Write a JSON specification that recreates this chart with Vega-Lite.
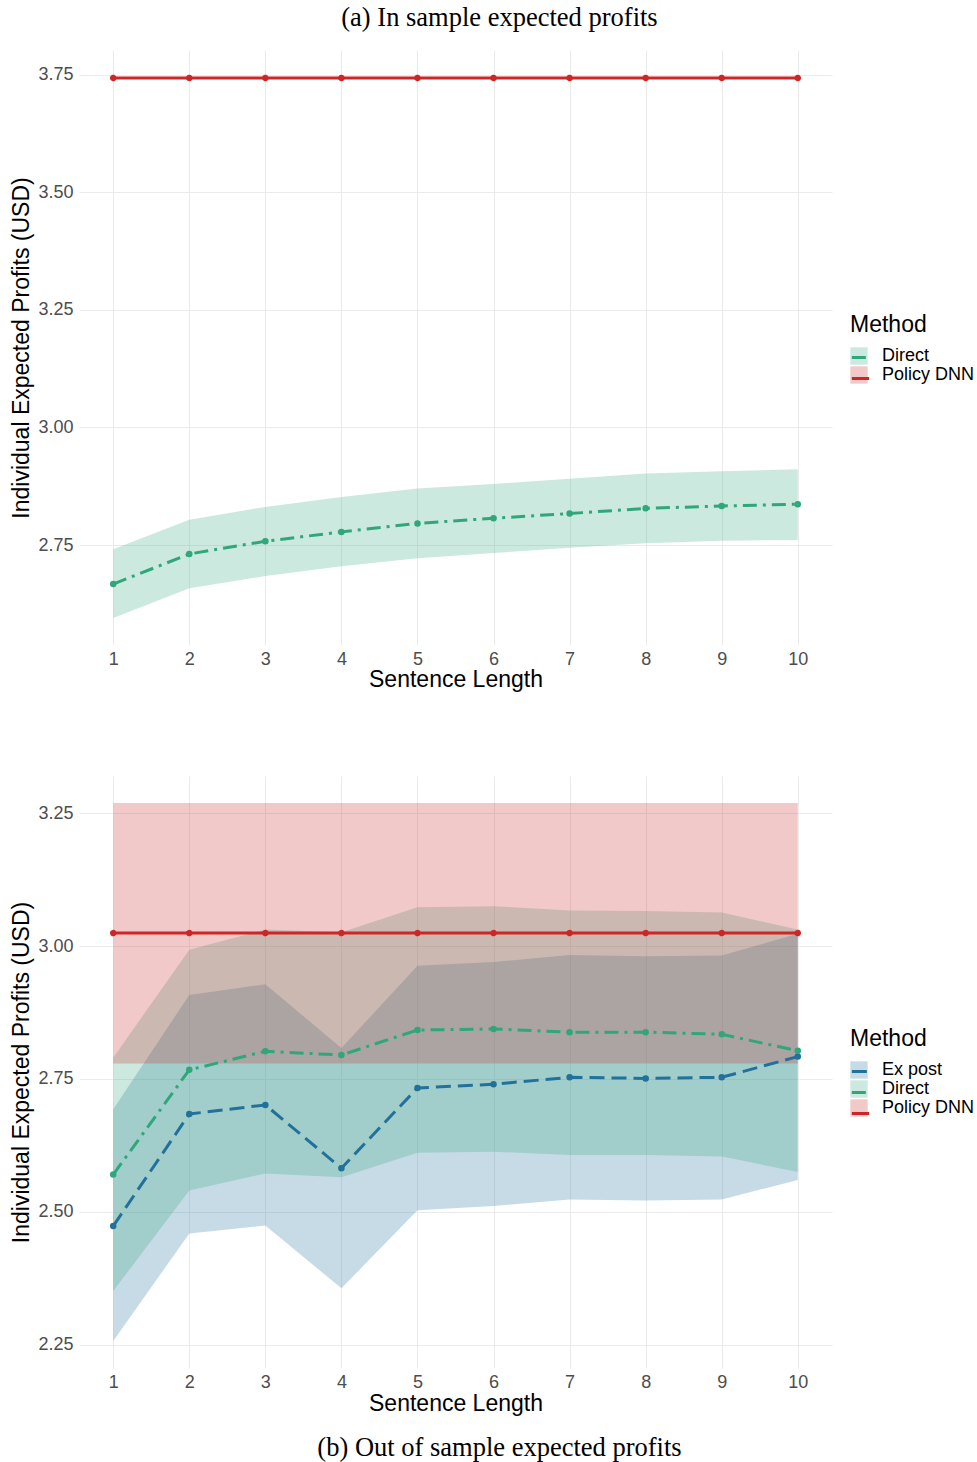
{
  "$schema": "https://vega.github.io/schema/vega-lite/v6.json",
  "background": "white",
  "padding": {"left": 10, "top": 4, "right": 2, "bottom": 2},
  "config": {
    "view": {"stroke": null},
    "font": "Liberation Sans",
    "axis": {
      "domain": false, "ticks": false, "grid": true, "gridColor": "#EBEBEB", "gridWidth": 1,
      "labelColor": "#4D4D4D", "labelFontSize": 18, "labelFont": "Liberation Sans",
      "titleFont": "Liberation Sans", "titleFontSize": 23, "titleFontWeight": "normal", "titleColor": "black"
    },
    "legend": {
      "titleFont": "Liberation Sans", "titleFontSize": 23, "titleFontWeight": "normal", "titleColor": "black",
      "labelFont": "Liberation Sans", "labelFontSize": 18, "labelColor": "black"
    }
  },
  "datasets": {
    "ins": [
      {"len": 1, "Method": "Direct", "ord": 2, "mean": 2.667, "lo": 2.595, "hi": 2.741},
      {"len": 2, "Method": "Direct", "ord": 2, "mean": 2.731, "lo": 2.658, "hi": 2.804},
      {"len": 3, "Method": "Direct", "ord": 2, "mean": 2.758, "lo": 2.684, "hi": 2.831},
      {"len": 4, "Method": "Direct", "ord": 2, "mean": 2.778, "lo": 2.705, "hi": 2.852},
      {"len": 5, "Method": "Direct", "ord": 2, "mean": 2.796, "lo": 2.722, "hi": 2.870},
      {"len": 6, "Method": "Direct", "ord": 2, "mean": 2.807, "lo": 2.733, "hi": 2.880},
      {"len": 7, "Method": "Direct", "ord": 2, "mean": 2.817, "lo": 2.744, "hi": 2.891},
      {"len": 8, "Method": "Direct", "ord": 2, "mean": 2.828, "lo": 2.754, "hi": 2.902},
      {"len": 9, "Method": "Direct", "ord": 2, "mean": 2.833, "lo": 2.759, "hi": 2.907},
      {"len": 10, "Method": "Direct", "ord": 2, "mean": 2.837, "lo": 2.761, "hi": 2.911},
      {"len": 1, "Method": "Policy DNN", "ord": 3, "mean": 3.743, "lo": 3.741, "hi": 3.745},
      {"len": 2, "Method": "Policy DNN", "ord": 3, "mean": 3.743, "lo": 3.741, "hi": 3.745},
      {"len": 3, "Method": "Policy DNN", "ord": 3, "mean": 3.743, "lo": 3.741, "hi": 3.745},
      {"len": 4, "Method": "Policy DNN", "ord": 3, "mean": 3.743, "lo": 3.741, "hi": 3.745},
      {"len": 5, "Method": "Policy DNN", "ord": 3, "mean": 3.743, "lo": 3.741, "hi": 3.745},
      {"len": 6, "Method": "Policy DNN", "ord": 3, "mean": 3.743, "lo": 3.741, "hi": 3.745},
      {"len": 7, "Method": "Policy DNN", "ord": 3, "mean": 3.743, "lo": 3.741, "hi": 3.745},
      {"len": 8, "Method": "Policy DNN", "ord": 3, "mean": 3.743, "lo": 3.741, "hi": 3.745},
      {"len": 9, "Method": "Policy DNN", "ord": 3, "mean": 3.743, "lo": 3.741, "hi": 3.745},
      {"len": 10, "Method": "Policy DNN", "ord": 3, "mean": 3.743, "lo": 3.741, "hi": 3.745}
    ],
    "oos": [
      {"len": 1, "Method": "Ex post", "ord": 1, "mean": 2.473, "lo": 2.257, "hi": 2.693},
      {"len": 2, "Method": "Ex post", "ord": 1, "mean": 2.684, "lo": 2.459, "hi": 2.908},
      {"len": 3, "Method": "Ex post", "ord": 1, "mean": 2.701, "lo": 2.474, "hi": 2.928},
      {"len": 4, "Method": "Ex post", "ord": 1, "mean": 2.582, "lo": 2.356, "hi": 2.808},
      {"len": 5, "Method": "Ex post", "ord": 1, "mean": 2.733, "lo": 2.503, "hi": 2.963},
      {"len": 6, "Method": "Ex post", "ord": 1, "mean": 2.740, "lo": 2.511, "hi": 2.970},
      {"len": 7, "Method": "Ex post", "ord": 1, "mean": 2.753, "lo": 2.523, "hi": 2.983},
      {"len": 8, "Method": "Ex post", "ord": 1, "mean": 2.751, "lo": 2.521, "hi": 2.981},
      {"len": 9, "Method": "Ex post", "ord": 1, "mean": 2.753, "lo": 2.523, "hi": 2.982},
      {"len": 10, "Method": "Ex post", "ord": 1, "mean": 2.792, "lo": 2.560, "hi": 3.023},
      {"len": 1, "Method": "Direct", "ord": 2, "mean": 2.570, "lo": 2.351, "hi": 2.790},
      {"len": 2, "Method": "Direct", "ord": 2, "mean": 2.767, "lo": 2.540, "hi": 2.993},
      {"len": 3, "Method": "Direct", "ord": 2, "mean": 2.802, "lo": 2.572, "hi": 3.031},
      {"len": 4, "Method": "Direct", "ord": 2, "mean": 2.795, "lo": 2.565, "hi": 3.026},
      {"len": 5, "Method": "Direct", "ord": 2, "mean": 2.842, "lo": 2.611, "hi": 3.073},
      {"len": 6, "Method": "Direct", "ord": 2, "mean": 2.844, "lo": 2.613, "hi": 3.075},
      {"len": 7, "Method": "Direct", "ord": 2, "mean": 2.838, "lo": 2.607, "hi": 3.067},
      {"len": 8, "Method": "Direct", "ord": 2, "mean": 2.838, "lo": 2.607, "hi": 3.066},
      {"len": 9, "Method": "Direct", "ord": 2, "mean": 2.834, "lo": 2.604, "hi": 3.063},
      {"len": 10, "Method": "Direct", "ord": 2, "mean": 2.803, "lo": 2.575, "hi": 3.031},
      {"len": 1, "Method": "Policy DNN", "ord": 3, "mean": 3.0245, "lo": 2.779, "hi": 3.269},
      {"len": 2, "Method": "Policy DNN", "ord": 3, "mean": 3.0245, "lo": 2.779, "hi": 3.269},
      {"len": 3, "Method": "Policy DNN", "ord": 3, "mean": 3.0245, "lo": 2.779, "hi": 3.269},
      {"len": 4, "Method": "Policy DNN", "ord": 3, "mean": 3.0245, "lo": 2.779, "hi": 3.269},
      {"len": 5, "Method": "Policy DNN", "ord": 3, "mean": 3.0245, "lo": 2.779, "hi": 3.269},
      {"len": 6, "Method": "Policy DNN", "ord": 3, "mean": 3.0245, "lo": 2.779, "hi": 3.269},
      {"len": 7, "Method": "Policy DNN", "ord": 3, "mean": 3.0245, "lo": 2.779, "hi": 3.269},
      {"len": 8, "Method": "Policy DNN", "ord": 3, "mean": 3.0245, "lo": 2.779, "hi": 3.269},
      {"len": 9, "Method": "Policy DNN", "ord": 3, "mean": 3.0245, "lo": 2.779, "hi": 3.269},
      {"len": 10, "Method": "Policy DNN", "ord": 3, "mean": 3.0245, "lo": 2.779, "hi": 3.269}
    ]
  },
  "spacing": 85,
  "resolve": {
    "scale": {"x": "independent", "y": "independent", "fill": "independent", "stroke": "independent", "strokeDash": "independent"},
    "legend": {"fill": "independent", "stroke": "independent", "strokeDash": "independent"}
  },
  "vconcat": [
    {
      "width": 753, "height": 595,
      "data": {"name": "ins"},
      "title": {"text": "(a) In sample expected profits", "font": "Liberation Serif", "fontSize": 26.5, "fontWeight": "normal", "color": "black", "anchor": "middle", "frame": "bounds", "offset": 19, "dx": 5},
      "encoding": {
        "x": {"field": "len", "type": "quantitative", "title": "Sentence Length",
              "scale": {"domain": [0.55, 10.45], "nice": false, "zero": false},
              "axis": {"values": [1,2,3,4,5,6,7,8,9,10], "format": "d", "labelPadding": 5, "titlePadding": 0}},
        "y": {"type": "quantitative"}
      },
      "layer": [
        {
          "mark": {"type": "area", "fillOpacity": 0.25},
          "encoding": {
            "y": {"field": "lo", "type": "quantitative", "title": "Individual Expected Profits (USD)",
                  "scale": {"domain": [2.5375, 3.8025], "nice": false, "zero": false},
                  "axis": {"values": [2.75, 3.0, 3.25, 3.5, 3.75], "format": ".2f", "labelPadding": 6, "titlePadding": 4}},
            "y2": {"field": "hi"},
            "fill": {"field": "Method", "type": "nominal",
                     "scale": {"domain": ["Direct", "Policy DNN"], "range": ["#2FA77A", "#CD2626"]},
                     "legend": {"orient": "none", "legendX": 771, "legendY": 264, "symbolType": "square", "symbolSize": 300, "symbolOpacity": 0.25, "symbolStrokeWidth": 0, "rowPadding": 1, "titlePadding": 10, "labelOffset": 14}}
          }
        },
        {
          "mark": {"type": "line", "strokeWidth": 3},
          "encoding": {
            "y": {"field": "mean", "type": "quantitative"},
            "stroke": {"field": "Method", "type": "nominal", "sort": {"field": "ord", "op": "min"},
                       "scale": {"range": ["#2FA77A", "#CD2626"]},
                       "legend": {"orient": "none", "legendX": 771, "legendY": 264, "symbolType": "stroke", "symbolSize": 300, "symbolStrokeWidth": 3, "rowPadding": 1, "titlePadding": 10, "labelOffset": 14, "labelColor": "transparent", "titleColor": "transparent"}},
            "strokeDash": {"field": "Method", "type": "nominal", "sort": {"field": "ord", "op": "min"},
                           "scale": {"range": [[14, 6, 3, 6], [1, 0]]},
                           "legend": {"orient": "none", "legendX": 771, "legendY": 264, "symbolType": "stroke", "symbolSize": 300, "symbolStrokeWidth": 3, "rowPadding": 1, "titlePadding": 10, "labelOffset": 14, "labelColor": "transparent", "titleColor": "transparent"}}
          }
        },
        {
          "mark": {"type": "point", "filled": false, "size": 9, "strokeWidth": 3.5, "opacity": 1},
          "encoding": {
            "y": {"field": "mean", "type": "quantitative"},
            "stroke": {"field": "Method", "type": "nominal", "sort": {"field": "ord", "op": "min"},
                       "scale": {"range": ["#2FA77A", "#CD2626"]},
                       "legend": {"orient": "none", "legendX": 771, "legendY": 264, "symbolType": "stroke", "symbolSize": 300, "symbolStrokeWidth": 3, "rowPadding": 1, "titlePadding": 10, "labelOffset": 14, "labelColor": "transparent", "titleColor": "transparent"}},
            "strokeDash": {"field": "Method", "type": "nominal", "sort": {"field": "ord", "op": "min"},
                           "scale": {"range": [[14, 6, 3, 6], [1, 0]]},
                           "legend": {"orient": "none", "legendX": 771, "legendY": 264, "symbolType": "stroke", "symbolSize": 300, "symbolStrokeWidth": 3, "rowPadding": 1, "titlePadding": 10, "labelOffset": 14, "labelColor": "transparent", "titleColor": "transparent"}}
          }
        }
      ]
    },
    {
      "width": 753, "height": 592,
      "data": {"name": "oos"},
      "title": {"text": "(b) Out of sample expected profits", "orient": "bottom", "font": "Liberation Serif", "fontSize": 26.5, "fontWeight": "normal", "color": "black", "anchor": "middle", "frame": "bounds", "offset": 20, "dx": 5},
      "encoding": {
        "x": {"field": "len", "type": "quantitative", "title": "Sentence Length",
              "scale": {"domain": [0.55, 10.45], "nice": false, "zero": false},
              "axis": {"values": [1,2,3,4,5,6,7,8,9,10], "format": "d", "labelPadding": 5, "titlePadding": 1}},
        "y": {"type": "quantitative"}
      },
      "layer": [
        {
          "mark": {"type": "area", "fillOpacity": 0.25},
          "encoding": {
            "y": {"field": "lo", "type": "quantitative", "title": "Individual Expected Profits (USD)",
                  "scale": {"domain": [2.206, 3.32], "nice": false, "zero": false},
                  "axis": {"values": [2.25, 2.5, 2.75, 3.0, 3.25], "format": ".2f", "labelPadding": 6, "titlePadding": 4}},
            "y2": {"field": "hi"},
            "fill": {"field": "Method", "type": "nominal",
                     "scale": {"domain": ["Ex post", "Direct", "Policy DNN"], "range": ["#21719A", "#2FA77A", "#CD2626"]},
                     "legend": {"orient": "none", "legendX": 771, "legendY": 252, "symbolType": "square", "symbolSize": 300, "symbolOpacity": 0.25, "symbolStrokeWidth": 0, "rowPadding": 1, "titlePadding": 10, "labelOffset": 14}}
          }
        },
        {
          "mark": {"type": "line", "strokeWidth": 3},
          "encoding": {
            "y": {"field": "mean", "type": "quantitative"},
            "stroke": {"field": "Method", "type": "nominal", "sort": {"field": "ord", "op": "min"},
                       "scale": {"range": ["#21719A", "#2FA77A", "#CD2626"]},
                       "legend": {"orient": "none", "legendX": 771, "legendY": 252, "symbolType": "stroke", "symbolSize": 300, "symbolStrokeWidth": 3, "rowPadding": 1, "titlePadding": 10, "labelOffset": 14, "labelColor": "transparent", "titleColor": "transparent"}},
            "strokeDash": {"field": "Method", "type": "nominal", "sort": {"field": "ord", "op": "min"},
                           "scale": {"range": [[15, 7], [14, 6, 3, 6], [1, 0]]},
                           "legend": {"orient": "none", "legendX": 771, "legendY": 252, "symbolType": "stroke", "symbolSize": 300, "symbolStrokeWidth": 3, "rowPadding": 1, "titlePadding": 10, "labelOffset": 14, "labelColor": "transparent", "titleColor": "transparent"}}
          }
        },
        {
          "mark": {"type": "point", "filled": false, "size": 9, "strokeWidth": 3.5, "opacity": 1},
          "encoding": {
            "y": {"field": "mean", "type": "quantitative"},
            "stroke": {"field": "Method", "type": "nominal", "sort": {"field": "ord", "op": "min"},
                       "scale": {"range": ["#21719A", "#2FA77A", "#CD2626"]},
                       "legend": {"orient": "none", "legendX": 771, "legendY": 252, "symbolType": "stroke", "symbolSize": 300, "symbolStrokeWidth": 3, "rowPadding": 1, "titlePadding": 10, "labelOffset": 14, "labelColor": "transparent", "titleColor": "transparent"}},
            "strokeDash": {"field": "Method", "type": "nominal", "sort": {"field": "ord", "op": "min"},
                           "scale": {"range": [[15, 7], [14, 6, 3, 6], [1, 0]]},
                           "legend": {"orient": "none", "legendX": 771, "legendY": 252, "symbolType": "stroke", "symbolSize": 300, "symbolStrokeWidth": 3, "rowPadding": 1, "titlePadding": 10, "labelOffset": 14, "labelColor": "transparent", "titleColor": "transparent"}}
          }
        }
      ]
    }
  ]
}
